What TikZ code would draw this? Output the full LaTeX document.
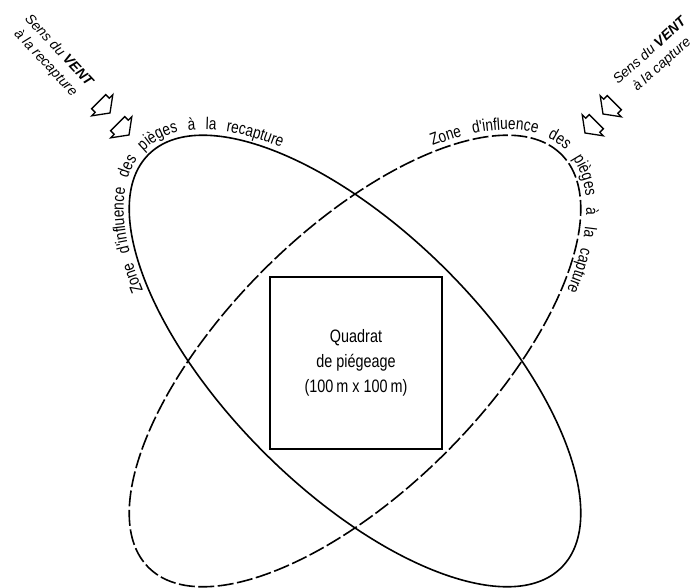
\documentclass[tikz,border=0pt]{standalone}
\usepackage{fontspec}
\setmainfont{Liberation Sans}
\newfontfamily\condfont[FakeStretch=0.8]{Liberation Sans}
\usetikzlibrary{decorations.text}

\tikzset{
  zone/.style={line width=1.6pt},
  zonedash/.style={line width=1.6pt, dash pattern=on 16pt off 3.5pt},
  quadrat/.style={draw, line width=2.4pt, minimum size=172pt, inner sep=0pt, align=center,
    font=\condfont\fontsize{18}{25}\selectfont},
  windlabel/.style={align=center, font=\fontsize{14}{18}\selectfont\itshape},
  windarrow/.pic={
    \draw[line width=1.3pt, line join=miter] (0,0) -- (-11,15) -- (-11,10) -- (-16,10)
      -- (-16,-10) -- (-11,-10) -- (-11,-15) -- cycle;
  },
  zonetext/.style={decorate, decoration={text along path,
    text align={fit to path stretching spaces}, text={#1}}}
}

\begin{document}
\begin{tikzpicture}[x=1pt,y=1pt]
  \useasboundingbox (0,0) rectangle (698,587);
  \coordinate (c) at (355,226);

  % Zones d'influence
  \draw[zone, rotate around={-45:(c)}] (c) ellipse[x radius=292, y radius=129];
  \draw[zonedash, rotate around={45:(c)}] (c) ellipse[x radius=292, y radius=129];

  % Texts along the zones
  \path[shift={(c)}, zonetext={|\condfont\fontsize{17}{20}\selectfont|Zone d'influence des pièges à la recapture}]
    plot[domain=-48:47, samples=120] ({-0.7071*(298*cos(\x)-135*sin(\x))}, {0.7071*(298*cos(\x)+135*sin(\x))});
  \path[shift={(c)}, zonetext={|\condfont\fontsize{17}{20}\selectfont|Zone d'influence des pièges à la capture}]
    plot[domain=-46:48, samples=120] ({0.7071*(298*cos(\x)+135*sin(\x))}, {0.7071*(298*cos(\x)-135*sin(\x))});

  % Quadrat
  \node[quadrat] (quadrat) at (356,224) {Quadrat\\de piégeage\\(100\,m x 100\,m)};

  % Wind
  \pic[rotate=-45] at (110,474) {windarrow};
  \pic[rotate=-45] at (129,452) {windarrow};
  \pic[rotate=-135] at (585,454) {windarrow};
  \pic[rotate=-135] at (603,473) {windarrow};
  \node[windlabel, rotate=-47] (ventrecap) at (52,530) {Sens du \textbf{VENT}\\à la recapture};
  \node[windlabel, rotate=42] (ventcap) at (656,529) {Sens du \textbf{VENT}\\à la capture};
\end{tikzpicture}
\end{document}
